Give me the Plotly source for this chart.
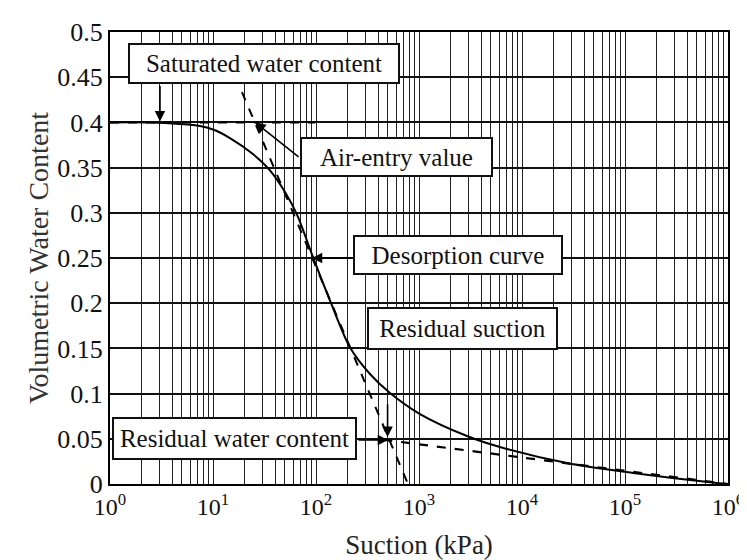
import plotly.graph_objects as go

# ---- data ----
curve_x = [1, 2.44, 4.78, 7.48, 10, 14.6, 24.4, 35.7, 50.0, 65.4, 93.5, 140, 214, 334, 523, 1023, 2924, 6110, 27300, 119700, 781000, 1000000]
curve_y = [0.400, 0.3999, 0.3982, 0.3960, 0.3921, 0.3827, 0.3650, 0.3470, 0.323, 0.298, 0.251, 0.200, 0.151, 0.1217, 0.1007, 0.0774, 0.0531, 0.0409, 0.0232, 0.0122, 0.0011, 0.0]

sat_x = [1, 98]
sat_y = [0.4, 0.4]

steep_x = [19.1, 782]
steep_y = [0.4336, 0.0]

resid_x = [450, 1000000]
resid_y = [0.049, 0.0]

x_decades = [0, 1, 2, 3, 4, 5, 6]
y_ticks = [0, 0.05, 0.1, 0.15, 0.2, 0.25, 0.3, 0.35, 0.4, 0.45, 0.5]
y_ticktext = ["0", "0.05", "0.1", "0.15", "0.2", "0.25", "0.3", "0.35", "0.4", "0.45", "0.5"]

labels = ["Saturated water content", "Air-entry value", "Desorption curve",
          "Residual suction", "Residual water content"]

FONT = "Liberation Serif, Times New Roman, serif"

# build log tick positions (all digits 1-9 per decade) for the grid
xtickvals, xticktext = [], []
for d in x_decades:
    if d == 6:
        xtickvals.append(10 ** d)
        xticktext.append("10<sup>%d</sup>" % d)
        break
    for k in range(1, 10):
        xtickvals.append(k * 10 ** d)
        xticktext.append("10<sup>%d</sup>" % d if k == 1 else "")

fig = go.Figure()
fig.add_trace(go.Scatter(x=sat_x, y=sat_y, mode="lines",
                         line=dict(color="black", width=2.4, dash="dash"), showlegend=False))
fig.add_trace(go.Scatter(x=steep_x, y=steep_y, mode="lines",
                         line=dict(color="black", width=2, dash="dash"), showlegend=False))
fig.add_trace(go.Scatter(x=resid_x, y=resid_y, mode="lines",
                         line=dict(color="black", width=2.2, dash="dash"), showlegend=False))
fig.add_trace(go.Scatter(x=curve_x, y=curve_y, mode="lines", line_shape="spline",
                         line=dict(color="black", width=2, smoothing=0.8), showlegend=False))

# label boxes (x in log10 units, y in data units)
boxes = [
    (labels[0], 1.495, 0.465, 268, 37),
    (labels[1], 2.782, 0.362, 189, 36),
    (labels[2], 3.379, 0.2533, 206, 36),
    (labels[3], 3.422, 0.172, 187, 39),
    (labels[4], 1.209, 0.0503, 241, 39),
]
for txt, bx, by, w, h in boxes:
    fig.add_annotation(x=bx, y=by, xref="x", yref="y", text=txt, showarrow=False,
                       font=dict(family=FONT, size=25, color="#111"),
                       bgcolor="white", bordercolor="#111", borderwidth=2,
                       width=w, height=h, borderpad=0)

# arrows: (tail_x, tail_y) -> (head_x, head_y), x in log10 units
arrows = [
    (0.485, 0.442, 0.485, 0.401),
    (1.845, 0.3606, 1.41, 0.400),
    (2.359, 0.250, 1.96, 0.250),
    (2.695, 0.090, 2.695, 0.052),
    (2.398, 0.0487, 2.70, 0.0487),
]
for tx, ty, hx, hy in arrows:
    fig.add_annotation(x=hx, y=hy, ax=tx, ay=ty, xref="x", yref="y", axref="x", ayref="y",
                       text="", showarrow=True, arrowhead=2, arrowsize=1.3,
                       arrowwidth=1.6, arrowcolor="black")

fig.update_xaxes(type="log", range=[0, 6], tickvals=xtickvals, ticktext=xticktext,
                 showgrid=True, gridcolor="#222", gridwidth=1.4, ticks="",
                 showline=True, linecolor="black", linewidth=2, mirror=True,
                 tickfont=dict(family=FONT, size=24, color="#111"), automargin=False,
                 title=dict(text="Suction (kPa)", font=dict(family=FONT, size=27, color="#222"), standoff=20),
                 zeroline=False)
fig.update_yaxes(range=[0, 0.5], tickvals=y_ticks, ticktext=y_ticktext,
                 showgrid=True, gridcolor="#111", gridwidth=1.6, ticks="",
                 showline=True, linecolor="black", linewidth=2, mirror=True,
                 tickfont=dict(family=FONT, size=26, color="#111"), automargin=False,
                 title=dict(text="Volumetric Water Content", font=dict(family=FONT, size=28, color="#333"), standoff=0),
                 zeroline=False)

# page body adds an 8px offset, so the figure is 8px smaller and margins shifted
fig.update_layout(width=739, height=552, margin=dict(l=102, r=19, t=24, b=76),
                  plot_bgcolor="white", paper_bgcolor="white", showlegend=False)

fig.write_html("out.html")
